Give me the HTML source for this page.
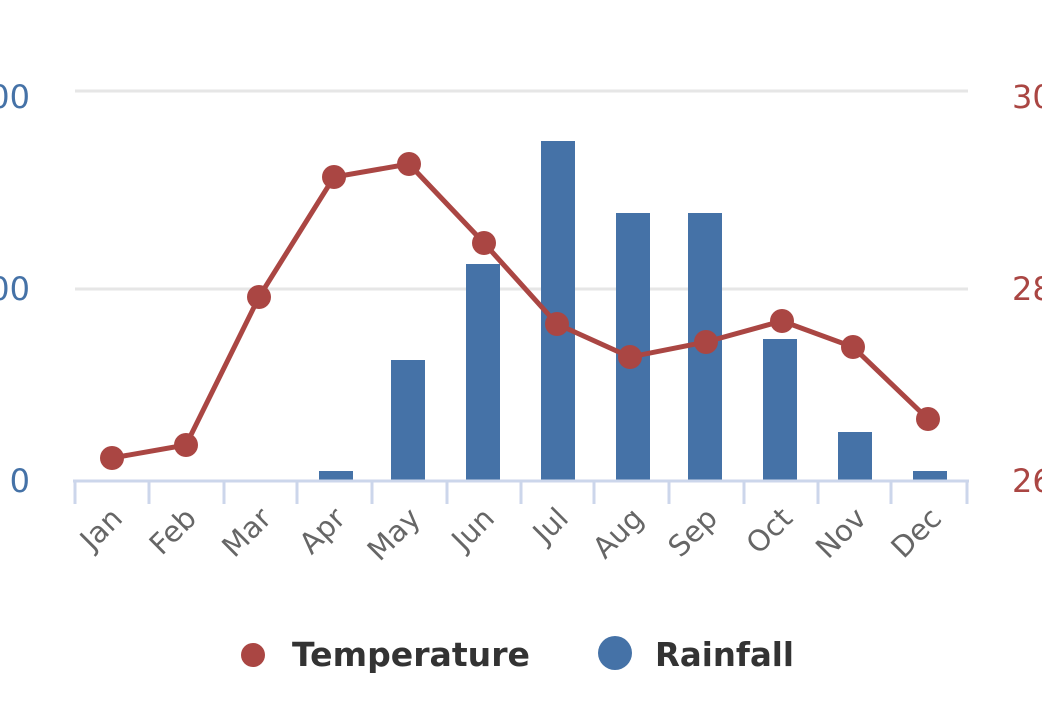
<!DOCTYPE html>
<html><head><style>body{margin:0;background:#fff;}svg{display:block;}</style></head><body>
<svg width="1042" height="718" xmlns="http://www.w3.org/2000/svg" font-family="'DejaVu Sans','Liberation Sans',sans-serif">
<line x1="75" y1="91" x2="968" y2="91" stroke="#e6e6e6" stroke-width="3"/>
<line x1="75" y1="289" x2="968" y2="289" stroke="#e6e6e6" stroke-width="3"/>
<g fill="#4572a7">
<rect x="319" y="471" width="34" height="10"/>
<rect x="391" y="360" width="34" height="121"/>
<rect x="466" y="264" width="34" height="217"/>
<rect x="541" y="141" width="34" height="340"/>
<rect x="616" y="213" width="34" height="268"/>
<rect x="688" y="213" width="34" height="268"/>
<rect x="763" y="339" width="34" height="142"/>
<rect x="838" y="432" width="34" height="49"/>
<rect x="913" y="471" width="34" height="10"/>
</g>
<g stroke="#ccd6eb" stroke-width="3">
<line x1="73" y1="481" x2="969" y2="481"/>
<line x1="75" y1="481" x2="75" y2="504"/><line x1="149" y1="481" x2="149" y2="504"/><line x1="224" y1="481" x2="224" y2="504"/><line x1="297" y1="481" x2="297" y2="504"/><line x1="372" y1="481" x2="372" y2="504"/><line x1="447" y1="481" x2="447" y2="504"/><line x1="521" y1="481" x2="521" y2="504"/><line x1="594" y1="481" x2="594" y2="504"/><line x1="669" y1="481" x2="669" y2="504"/><line x1="744" y1="481" x2="744" y2="504"/><line x1="818" y1="481" x2="818" y2="504"/><line x1="891" y1="481" x2="891" y2="504"/><line x1="967" y1="481" x2="967" y2="504"/>
</g>
<polyline fill="none" stroke="#aa4643" stroke-width="5" points="112,458 186,445 259,297 334,177 409,164 484,243 557,324 630,357 706,342 782,321 853,347 928,419"/>
<g fill="#aa4643">
<circle cx="112" cy="458" r="12"/><circle cx="186" cy="445" r="12"/><circle cx="259" cy="297" r="12"/><circle cx="334" cy="177" r="12"/><circle cx="409" cy="164" r="12"/><circle cx="484" cy="243" r="12"/><circle cx="557" cy="324" r="12"/><circle cx="630" cy="357" r="12"/><circle cx="706" cy="342" r="12"/><circle cx="782" cy="321" r="12"/><circle cx="853" cy="347" r="12"/><circle cx="928" cy="419" r="12"/>
</g>
<g fill="#4572a7" font-size="32" text-anchor="end">
<text x="30" y="108">000</text><text x="30" y="300">000</text><text x="30" y="492">0</text>
</g>
<g fill="#aa4643" font-size="32">
<text x="1012" y="108">30</text><text x="1012" y="300">28</text><text x="1012" y="492">26</text>
</g>
<g fill="#666" font-size="29" text-anchor="end">
<text transform="translate(124,520) rotate(-45)">Jan</text>
<text transform="translate(198,520) rotate(-45)">Feb</text>
<text transform="translate(273,520) rotate(-45)">Mar</text>
<text transform="translate(347,520) rotate(-45)">Apr</text>
<text transform="translate(422,520) rotate(-45)">May</text>
<text transform="translate(496,520) rotate(-45)">Jun</text>
<text transform="translate(570,520) rotate(-45)">Jul</text>
<text transform="translate(645,520) rotate(-45)">Aug</text>
<text transform="translate(719,520) rotate(-45)">Sep</text>
<text transform="translate(794,520) rotate(-45)">Oct</text>
<text transform="translate(868,520) rotate(-45)">Nov</text>
<text transform="translate(943,520) rotate(-45)">Dec</text>
</g>
<circle cx="253" cy="655" r="12" fill="#aa4643"/>
<circle cx="615" cy="653" r="17" fill="#4572a7"/>
<g fill="#333" font-size="33" font-weight="bold">
<text x="292" y="666" textLength="238" lengthAdjust="spacingAndGlyphs">Temperature</text>
<text x="655" y="666" textLength="139" lengthAdjust="spacingAndGlyphs">Rainfall</text>
</g>
</svg>
</body></html>
